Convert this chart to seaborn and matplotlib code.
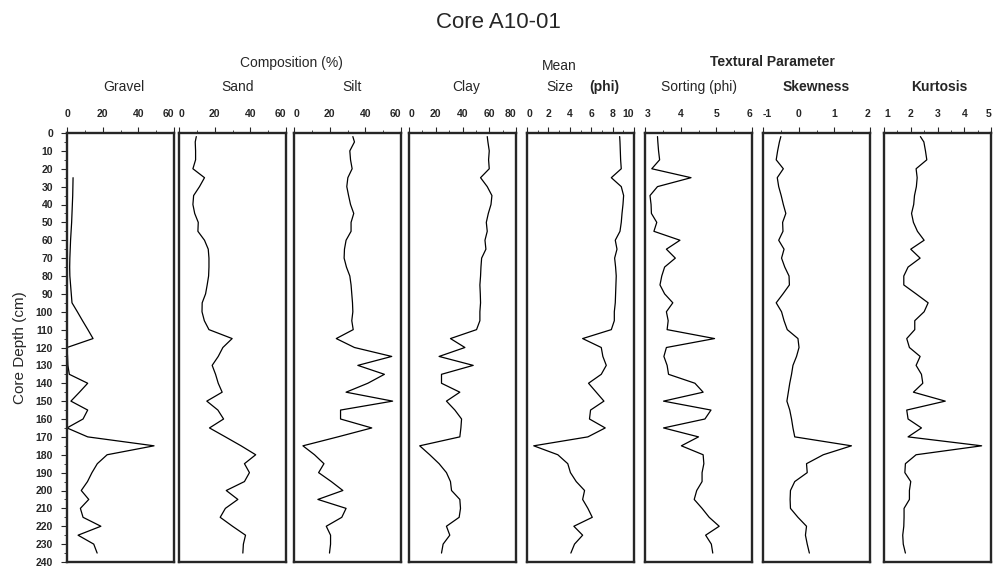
import numpy as np
import pandas as pd
import matplotlib
matplotlib.use("Agg")
import matplotlib.pyplot as plt
import seaborn as sns
from matplotlib.ticker import MultipleLocator

sns.set_style("ticks")
plt.rcParams["font.family"] = ["Liberation Sans", "DejaVu Sans"]

depth = [2, 5, 10, 15, 20, 25, 30, 35, 40, 45, 50, 55, 60, 65, 70, 75, 80, 85, 90, 95,
         100, 105, 110, 115, 120, 125, 130, 135, 140, 145, 150, 155, 160, 165, 170, 175,
         180, 185, 190, 195, 200, 205, 210, 215, 220, 225, 230, 235]

gravel = [np.nan, np.nan, np.nan, np.nan, np.nan, 3.4, 3.3, 3.2, 3.0, 2.8, 2.6, 2.3, 2.0, 1.8,
          1.6, 1.5, 1.6, 2.0, 2.4, 2.8, 5.8, 8.7, 11.7, 14.6, 0.0, 0.3, 0.5, 1.3, 11.6, 7.0,
          2.2, 11.6, 9.0, 0.0, 11.6, 48.8, 22.5, 17.0, 14.0, 11.5, 8.0, 12.2, 7.5, 9.0, 19.0,
          6.2, 15.0, 16.9]
sand = [9.7, 9.1, 9.3, 9.3, 7.8, 14.3, 11.5, 8.2, 7.8, 8.8, 10.8, 10.6, 14.3, 16.4, 16.8,
        16.8, 16.6, 15.8, 14.9, 13.0, 12.9, 14.2, 16.8, 29.8, 24.6, 22.0, 18.6, 20.5, 22.0,
        24.2, 15.6, 21.8, 25.0, 17.1, 26.0, 34.8, 43.0, 36.7, 39.5, 36.7, 26.5, 33.0, 26.0,
        23.1, 30.0, 37.3, 36.1, 35.8]
silt = [33.0, 33.9, 31.3, 31.7, 32.6, 30.2, 29.6, 30.6, 31.7, 33.5, 32.0, 32.0, 29.2, 28.3,
        28.1, 29.4, 31.3, 32.0, 32.4, 32.8, 33.0, 32.4, 33.2, 23.7, 33.9, 54.8, 35.8, 50.7,
        41.4, 29.2, 55.3, 26.1, 26.1, 43.6, 24.6, 5.0, 11.5, 16.8, 13.8, 20.9, 27.4, 13.4,
        29.2, 26.8, 18.1, 20.5, 20.5, 19.9]
clay = [58.5, 59.0, 60.0, 59.5, 60.0, 53.5, 58.5, 62.0, 61.3, 59.3, 57.8, 58.5, 56.8, 57.5,
        54.3, 53.8, 53.5, 53.0, 53.3, 53.5, 53.0, 53.0, 50.5, 31.0, 41.8, 22.5, 48.0, 24.3,
        24.3, 38.0, 28.0, 34.3, 39.3, 38.8, 38.0, 8.0, 15.5, 22.5, 28.0, 31.0, 31.8, 38.0,
        38.5, 37.5, 28.0, 30.5, 25.5, 24.3]
mean_size = [8.66, 8.69, 8.72, 8.75, 8.81, 7.88, 8.81, 9.03, 8.97, 8.88, 8.81, 8.69, 8.25,
             8.41, 8.19, 8.28, 8.34, 8.31, 8.28, 8.25, 8.16, 8.16, 7.88, 5.2, 6.94, 7.09, 7.41,
             6.94, 5.75, 6.47, 7.19, 5.94, 5.84, 7.31, 5.69, 0.63, 2.88, 3.81, 4.06, 4.6, 5.38,
             5.2, 5.69, 6.1, 4.38, 5.2, 4.44, 4.1]
sorting = [3.35, 3.36, 3.38, 3.41, 3.19, 4.29, 3.35, 3.14, 3.17, 3.18, 3.33, 3.25, 3.98, 3.6,
           3.85, 3.55, 3.47, 3.42, 3.55, 3.78, 3.6, 3.65, 3.62, 4.95, 3.6, 3.53, 3.62, 3.66,
           4.4, 4.63, 3.52, 4.85, 4.68, 3.52, 4.5, 4.02, 4.63, 4.65, 4.6, 4.6, 4.45, 4.38, 4.6,
           4.8, 5.08, 4.7, 4.86, 4.9]
skewness = [-0.50, -0.54, -0.59, -0.63, -0.43, -0.60, -0.56, -0.49, -0.43, -0.36, -0.45,
            -0.44, -0.56, -0.41, -0.48, -0.39, -0.27, -0.26, -0.44, -0.63, -0.48, -0.41,
            -0.32, -0.02, 0.01, -0.06, -0.16, -0.20, -0.25, -0.29, -0.33, -0.25, -0.20, -0.16,
            -0.11, 1.48, 0.69, 0.22, 0.24, -0.11, -0.23, -0.24, -0.23, -0.02, 0.22, 0.19,
            0.24, 0.30]
kurtosis = [2.36, 2.49, 2.55, 2.60, 2.2, 2.24, 2.21, 2.14, 2.11, 2.03, 2.1, 2.25, 2.5, 2.0,
            2.35, 1.9, 1.74, 1.74, 2.2, 2.65, 2.5, 2.15, 2.15, 1.85, 1.95, 2.35, 2.2, 2.4,
            2.45, 2.1, 3.29, 1.85, 1.9, 2.4, 1.9, 4.65, 2.2, 1.8, 1.78, 2.0, 1.95, 1.95, 1.75,
            1.75, 1.74, 1.7, 1.72, 1.8]

df = pd.DataFrame({"depth": depth, "Gravel": gravel, "Sand": sand, "Silt": silt,
                   "Clay": clay, "Mean": mean_size, "Sorting": sorting,
                   "Skewness": skewness, "Kurtosis": kurtosis})

# column, tick values, minor step, left edge (px)
panels = [
    ("Gravel", [0, 20, 40, 60], 10, 67),
    ("Sand", [0, 20, 40, 60], 10, 179),
    ("Silt", [0, 20, 40, 60], 10, 294),
    ("Clay", [0, 20, 40, 60, 80], 10, 409),
    ("Mean", [0, 2, 4, 6, 8, 10], 1, 527),
    ("Sorting", [3, 4, 5, 6], 0.5, 645),
    ("Skewness", [-1, 0, 1, 2], 0.5, 763),
    ("Kurtosis", [1, 2, 3, 4, 5], 0.5, 884),
]

W, H = 996, 572
fig = plt.figure(figsize=(W / 100, H / 100), dpi=100)

axes = []
for i, (col, ticks, minor, left) in enumerate(panels):
    ax = fig.add_axes([left / W, (H - 562) / H, 107 / W, 429 / H])
    sns.lineplot(data=df, x=col, y="depth", ax=ax, color="black", linewidth=0.9,
                 sort=False, estimator=None, orient="y")
    ax.set_xlim(ticks[0], ticks[-1])
    ax.set_ylim(240, 0)
    ax.xaxis.tick_top()
    ax.set_xticks(ticks)
    ax.set_xticklabels([str(t).replace("-", "-") for t in ticks], fontweight="bold")
    ax.xaxis.set_minor_locator(MultipleLocator(minor))
    ax.tick_params(axis="x", which="major", length=4, width=0.8, pad=6, labelsize=7.5,
                   top=True, bottom=False, labeltop=True, labelbottom=False)
    ax.tick_params(axis="x", which="minor", length=2, width=0.6, top=True, bottom=False)
    ax.set_xlabel("")
    for s in ax.spines.values():
        s.set_linewidth(1.7)
    if i == 0:
        ax.yaxis.set_major_locator(MultipleLocator(10))
        ax.yaxis.set_minor_locator(MultipleLocator(5))
        ax.tick_params(axis="y", which="major", length=4, width=0.8, labelsize=7.5, pad=6)
        ax.tick_params(axis="y", which="minor", length=2, width=0.6)
        for t in ax.get_yticklabels():
            t.set_fontweight("bold")
        ax.set_ylabel("Core Depth (cm)", fontsize=11, labelpad=6)
    else:
        ax.set_ylabel("")
        ax.tick_params(axis="y", which="both", left=False, labelleft=False)
    axes.append(ax)

# keep the edge labels of neighbouring panels apart
fig.canvas.draw()
for i, ax in enumerate(axes):
    labs = ax.xaxis.get_majorticklabels()
    if i > 0:
        labs[0].set_horizontalalignment("left")
    labs[-1].set_horizontalalignment("right")

fig.text(0.5, 1 - 22 / H, "Core A10-01", ha="center", va="center", fontsize=16)
fig.text(291 / W, 1 - 63 / H, "Composition (%)", ha="center", va="center", fontsize=10)
fig.text(772 / W, 1 - 62 / H, "Textural Parameter", ha="center", va="center",
         fontsize=10, fontweight="bold")
fig.text(559 / W, 1 - 66 / H, "Mean", ha="center", va="center", fontsize=10)
fig.text(560 / W, 1 - 87 / H, "Size", ha="center", va="center", fontsize=10)
fig.text(604 / W, 1 - 87 / H, "(phi)", ha="center", va="center", fontsize=10,
         fontweight="bold")
labels = [("Gravel", 124), ("Sand", 238), ("Silt", 352), ("Clay", 466),
          ("Sorting (phi)", 699), ("Skewness", 816), ("Kurtosis", 939)]
for name, x in labels:
    weight = "bold" if name in ("Skewness", "Kurtosis") else "normal"
    fig.text(x / W, 1 - 87 / H, name, ha="center", va="center", fontsize=10,
             fontweight=weight)

fig.savefig("out.png", dpi=100)
